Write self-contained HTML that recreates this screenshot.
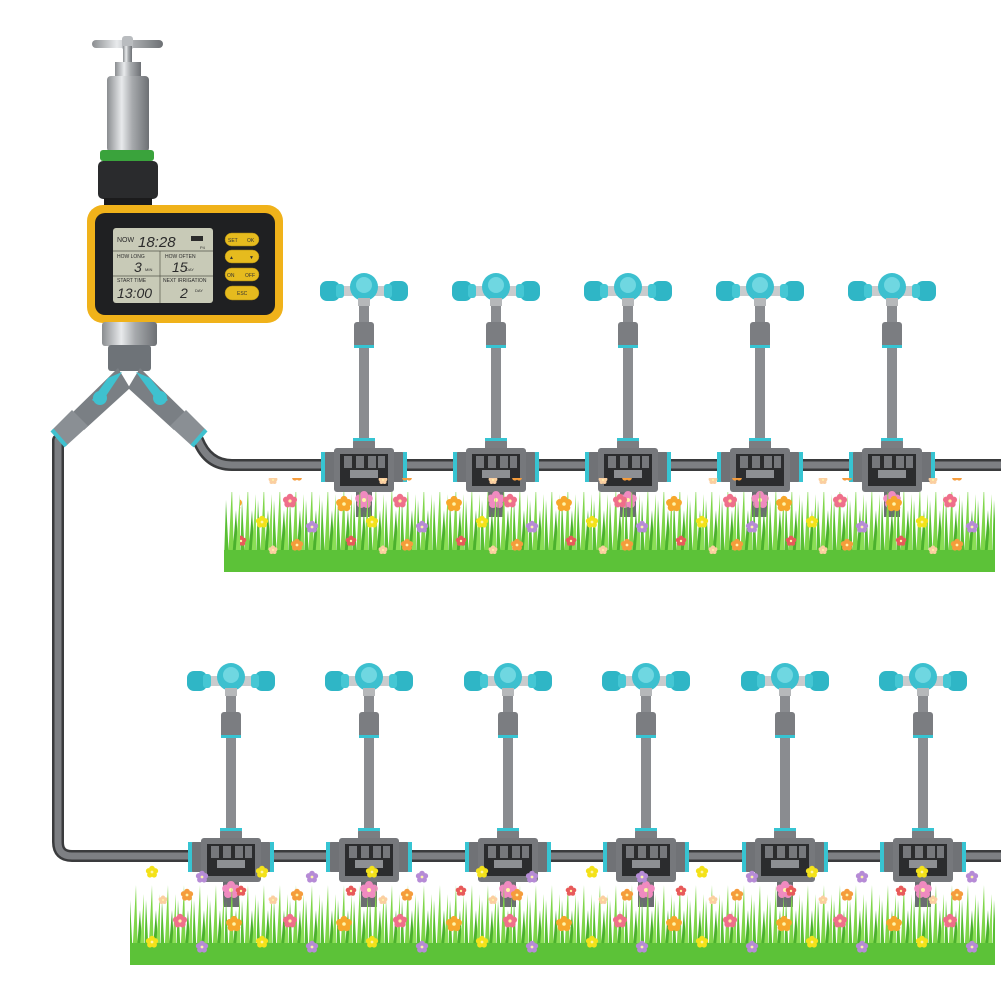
<!DOCTYPE html>
<html><head><meta charset="utf-8"><style>
html,body{margin:0;padding:0;background:#fff;width:1001px;height:1001px;overflow:hidden}
svg{display:block}
text{font-family:"Liberation Sans",sans-serif}
</style></head><body>
<svg width="1001" height="1001" viewBox="0 0 1001 1001" xmlns="http://www.w3.org/2000/svg" xmlns:xlink="http://www.w3.org/1999/xlink">
<defs>
<linearGradient id="silver" x1="0" x2="1"><stop offset="0" stop-color="#8a8d90"/><stop offset=".35" stop-color="#e8eaec"/><stop offset=".6" stop-color="#a7aaad"/><stop offset="1" stop-color="#6d7074"/></linearGradient>
<symbol id="fl" viewBox="-10 -10 20 20" overflow="visible">
  <circle cx="0" cy="-5" r="4"/><circle cx="4.8" cy="-1.5" r="4"/><circle cx="3" cy="4" r="4"/><circle cx="-3" cy="4" r="4"/><circle cx="-4.8" cy="-1.5" r="4"/>
  <circle cx="0" cy="0" r="2" fill="#fff5a8"/>
</symbol>
<pattern id="gp" width="16" height="80" patternUnits="userSpaceOnUse">
  <polygon points="0,80 2,20 5,80" fill="#58bf33"/>
  <polygon points="4,80 8,5 10,80" fill="#7fd64a"/>
  <polygon points="8,80 12,30 15,80" fill="#4bb12d"/>
  <polygon points="11,80 16,14 16,80" fill="#8ade55"/>
</pattern>
<pattern id="fp" width="110" height="70" patternUnits="userSpaceOnUse">
  <use xlink:href="#fl" x="5" y="5" width="18" height="18" fill="#f7a72b"/>
  <use xlink:href="#fl" x="35" y="25" width="14" height="14" fill="#f4e21a"/>
  <use xlink:href="#fl" x="62" y="3" width="16" height="16" fill="#ef6f8a"/>
  <use xlink:href="#fl" x="85" y="30" width="14" height="14" fill="#b68bd6"/>
  <use xlink:href="#fl" x="15" y="45" width="12" height="12" fill="#e85a5a"/>
  <use xlink:href="#fl" x="70" y="48" width="14" height="14" fill="#f59c3c"/>
  <use xlink:href="#fl" x="48" y="55" width="10" height="10" fill="#fbcfa0"/>
</pattern>
<symbol id="spr" viewBox="-50 -20 100 230" width="100" height="230" overflow="visible">
  <rect x="-5" y="10" width="10" height="150" fill="#8a8c90"/>
  <rect x="-10" y="32" width="20" height="26" rx="3" fill="#7b7d81"/>
  <rect x="-10" y="55" width="20" height="3" fill="#37c4d2"/>
  <rect x="-11" y="150" width="22" height="12" rx="2" fill="#7b7d81"/>
  <rect x="-11" y="148" width="22" height="3" fill="#37c4d2"/>
  <rect x="-30" y="-4" width="60" height="10" rx="4" fill="#c9cbcd"/>
  <rect x="-44" y="-9" width="20" height="20" rx="7" fill="#2fb6c6"/>
  <rect x="24" y="-9" width="20" height="20" rx="7" fill="#2fb6c6"/>
  <rect x="-28" y="-6" width="8" height="14" rx="3" fill="#45c7d4"/>
  <rect x="20" y="-6" width="8" height="14" rx="3" fill="#45c7d4"/>
  <circle cx="0" cy="-3" r="14" fill="#3cc0cf"/>
  <circle cx="0" cy="-5" r="8" fill="#6fd7e1"/>
  <rect x="-6" y="8" width="12" height="8" fill="#b6b8ba"/>
  <rect x="-42" y="162" width="84" height="30" rx="4" fill="#707276"/>
  <rect x="-43" y="162" width="4" height="30" fill="#37c4d2"/>
  <rect x="39" y="162" width="4" height="30" fill="#37c4d2"/>
  <rect x="-30" y="158" width="60" height="44" rx="3" fill="#76787c"/>
  <rect x="-24" y="164" width="48" height="32" fill="#2b2c2e"/>
  <rect x="-20" y="166" width="8" height="12" fill="#76787c"/><rect x="-8" y="166" width="8" height="12" fill="#76787c"/>
  <rect x="4" y="166" width="8" height="12" fill="#76787c"/><rect x="14" y="166" width="7" height="12" fill="#76787c"/>
  <rect x="-14" y="180" width="28" height="8" fill="#8d8f93"/>
  <rect x="-8" y="202" width="16" height="25" fill="#6b6d71"/>
  <use xlink:href="#fl" x="-10" y="200" width="20" height="20" fill="#f08ac0"/>
</symbol>
</defs>
<!-- pipes -->
<g fill="none" stroke-linejoin="round" stroke-linecap="round">
<path d="M198 440 Q208 465 232 465 L1001 465" stroke="#3a3b3d" stroke-width="12"/>
<path d="M198 440 Q208 465 232 465 L1001 465" stroke="#7d7f83" stroke-width="7"/>
<path d="M58 440 L58 842 Q58 856 72 856 L1001 856" stroke="#3a3b3d" stroke-width="12"/>
<path d="M58 440 L58 842 Q58 856 72 856 L1001 856" stroke="#7d7f83" stroke-width="7"/>
</g>
<!-- sprinklers -->
<use xlink:href="#spr" x="314" y="270"/><use xlink:href="#spr" x="446" y="270"/><use xlink:href="#spr" x="578" y="270"/><use xlink:href="#spr" x="710" y="270"/><use xlink:href="#spr" x="842" y="270"/>
<use xlink:href="#spr" x="181" y="660"/><use xlink:href="#spr" x="319" y="660"/><use xlink:href="#spr" x="458" y="660"/><use xlink:href="#spr" x="596" y="660"/><use xlink:href="#spr" x="735" y="660"/><use xlink:href="#spr" x="873" y="660"/>
<!-- grass top -->
<rect x="224" y="492" width="771" height="80" fill="url(#gp)"/>
<rect x="224" y="550" width="771" height="22" fill="#5cc238"/>
<rect x="240" y="478" width="750" height="85" fill="url(#fp)"/>
<!-- grass bottom -->
<rect x="130" y="885" width="865" height="80" fill="url(#gp)"/>
<rect x="130" y="943" width="865" height="22" fill="#5cc238"/>
<rect x="145" y="865" width="845" height="90" fill="url(#fp)"/>
<!-- faucet -->
<rect x="92" y="40" width="71" height="8" rx="4" fill="url(#silver)"/>
<rect x="122" y="36" width="11" height="14" rx="3" fill="#b9bcbf"/>
<rect x="123" y="46" width="9" height="20" fill="url(#silver)"/>
<rect x="115" y="62" width="26" height="14" fill="url(#silver)"/>
<rect x="107" y="76" width="42" height="76" rx="4" fill="url(#silver)"/>
<rect x="100" y="150" width="54" height="11" rx="3" fill="#3aa33c"/>
<rect x="98" y="161" width="60" height="38" rx="5" fill="#2a2b2d"/>
<rect x="104" y="198" width="48" height="9" fill="#1b1b1c"/>
<!-- timer -->
<rect x="87" y="205" width="196" height="118" rx="16" fill="#f0b21a"/>
<rect x="95" y="213" width="180" height="102" rx="10" fill="#1f2022"/>
<rect x="113" y="228" width="100" height="75" rx="3" fill="#c8cab7"/>
<g fill="#2b2b2b">
<text x="117" y="242" font-size="7">NOW</text>
<text x="138" y="247" font-size="15" font-style="italic">18:28</text>
<rect x="191" y="236" width="12" height="5"/>
<text x="200" y="249" font-size="4">P4</text>
<text x="117" y="258" font-size="5">HOW LONG</text>
<text x="165" y="258" font-size="5">HOW OFTEN</text>
<text x="134" y="272" font-size="14" font-style="italic">3</text><text x="145" y="271" font-size="4">MIN</text>
<text x="172" y="272" font-size="14" font-style="italic">15</text><text x="186" y="271" font-size="4">DAY</text>
<text x="117" y="282" font-size="5">START TIME</text>
<text x="163" y="282" font-size="5">NEXT IRRIGATION</text>
<text x="117" y="298" font-size="14" font-style="italic">13:00</text>
<text x="180" y="298" font-size="14" font-style="italic">2</text><text x="195" y="292" font-size="4">DAY</text>
</g>
<g stroke="#55564a" stroke-width=".7"><line x1="113" y1="251" x2="213" y2="251"/><line x1="113" y1="276" x2="213" y2="276"/><line x1="160" y1="251" x2="160" y2="303"/></g>
<g fill="#e6bb1e" stroke="#a07e10" stroke-width=".5">
<rect x="225" y="233" width="34" height="13" rx="6.5"/><rect x="225" y="250" width="34" height="13" rx="6.5"/>
<rect x="225" y="268" width="34" height="13" rx="6.5"/><rect x="225" y="286" width="34" height="14" rx="7"/>
</g>
<g fill="#333" font-size="5"><text x="228" y="242">SET</text><text x="247" y="242">OK</text>
<text x="229" y="259">▲</text><text x="249" y="259">▼</text><text x="227" y="277">ON</text><text x="245" y="277">OFF</text><text x="237" y="295">ESC</text></g>
<!-- lower connector & Y valve -->
<rect x="102" y="322" width="55" height="24" rx="3" fill="url(#silver)"/>
<rect x="108" y="345" width="43" height="26" rx="3" fill="#6e7378"/>
<path d="M118 368 L70 415 L84 430 L130 388 Z" fill="#7a7f84"/>
<path d="M140 368 L188 415 L174 430 L128 388 Z" fill="#7a7f84"/>
<path d="M108 378 L122 372 L100 405 L92 400 Z" fill="#3fc1cf"/>
<path d="M150 378 L136 372 L160 405 L168 400 Z" fill="#3fc1cf"/>
<circle cx="100" cy="398" r="7" fill="#3fc1cf"/><circle cx="160" cy="398" r="7" fill="#3fc1cf"/>
<path d="M72 410 L52 430 L66 446 L88 426 Z" fill="#8a8f94"/>
<path d="M186 410 L206 430 L192 446 L170 426 Z" fill="#8a8f94"/>
<path d="M52 430 L66 446" stroke="#3fc1cf" stroke-width="4"/>
<path d="M206 430 L192 446" stroke="#3fc1cf" stroke-width="4"/>
</svg>
</body></html>
